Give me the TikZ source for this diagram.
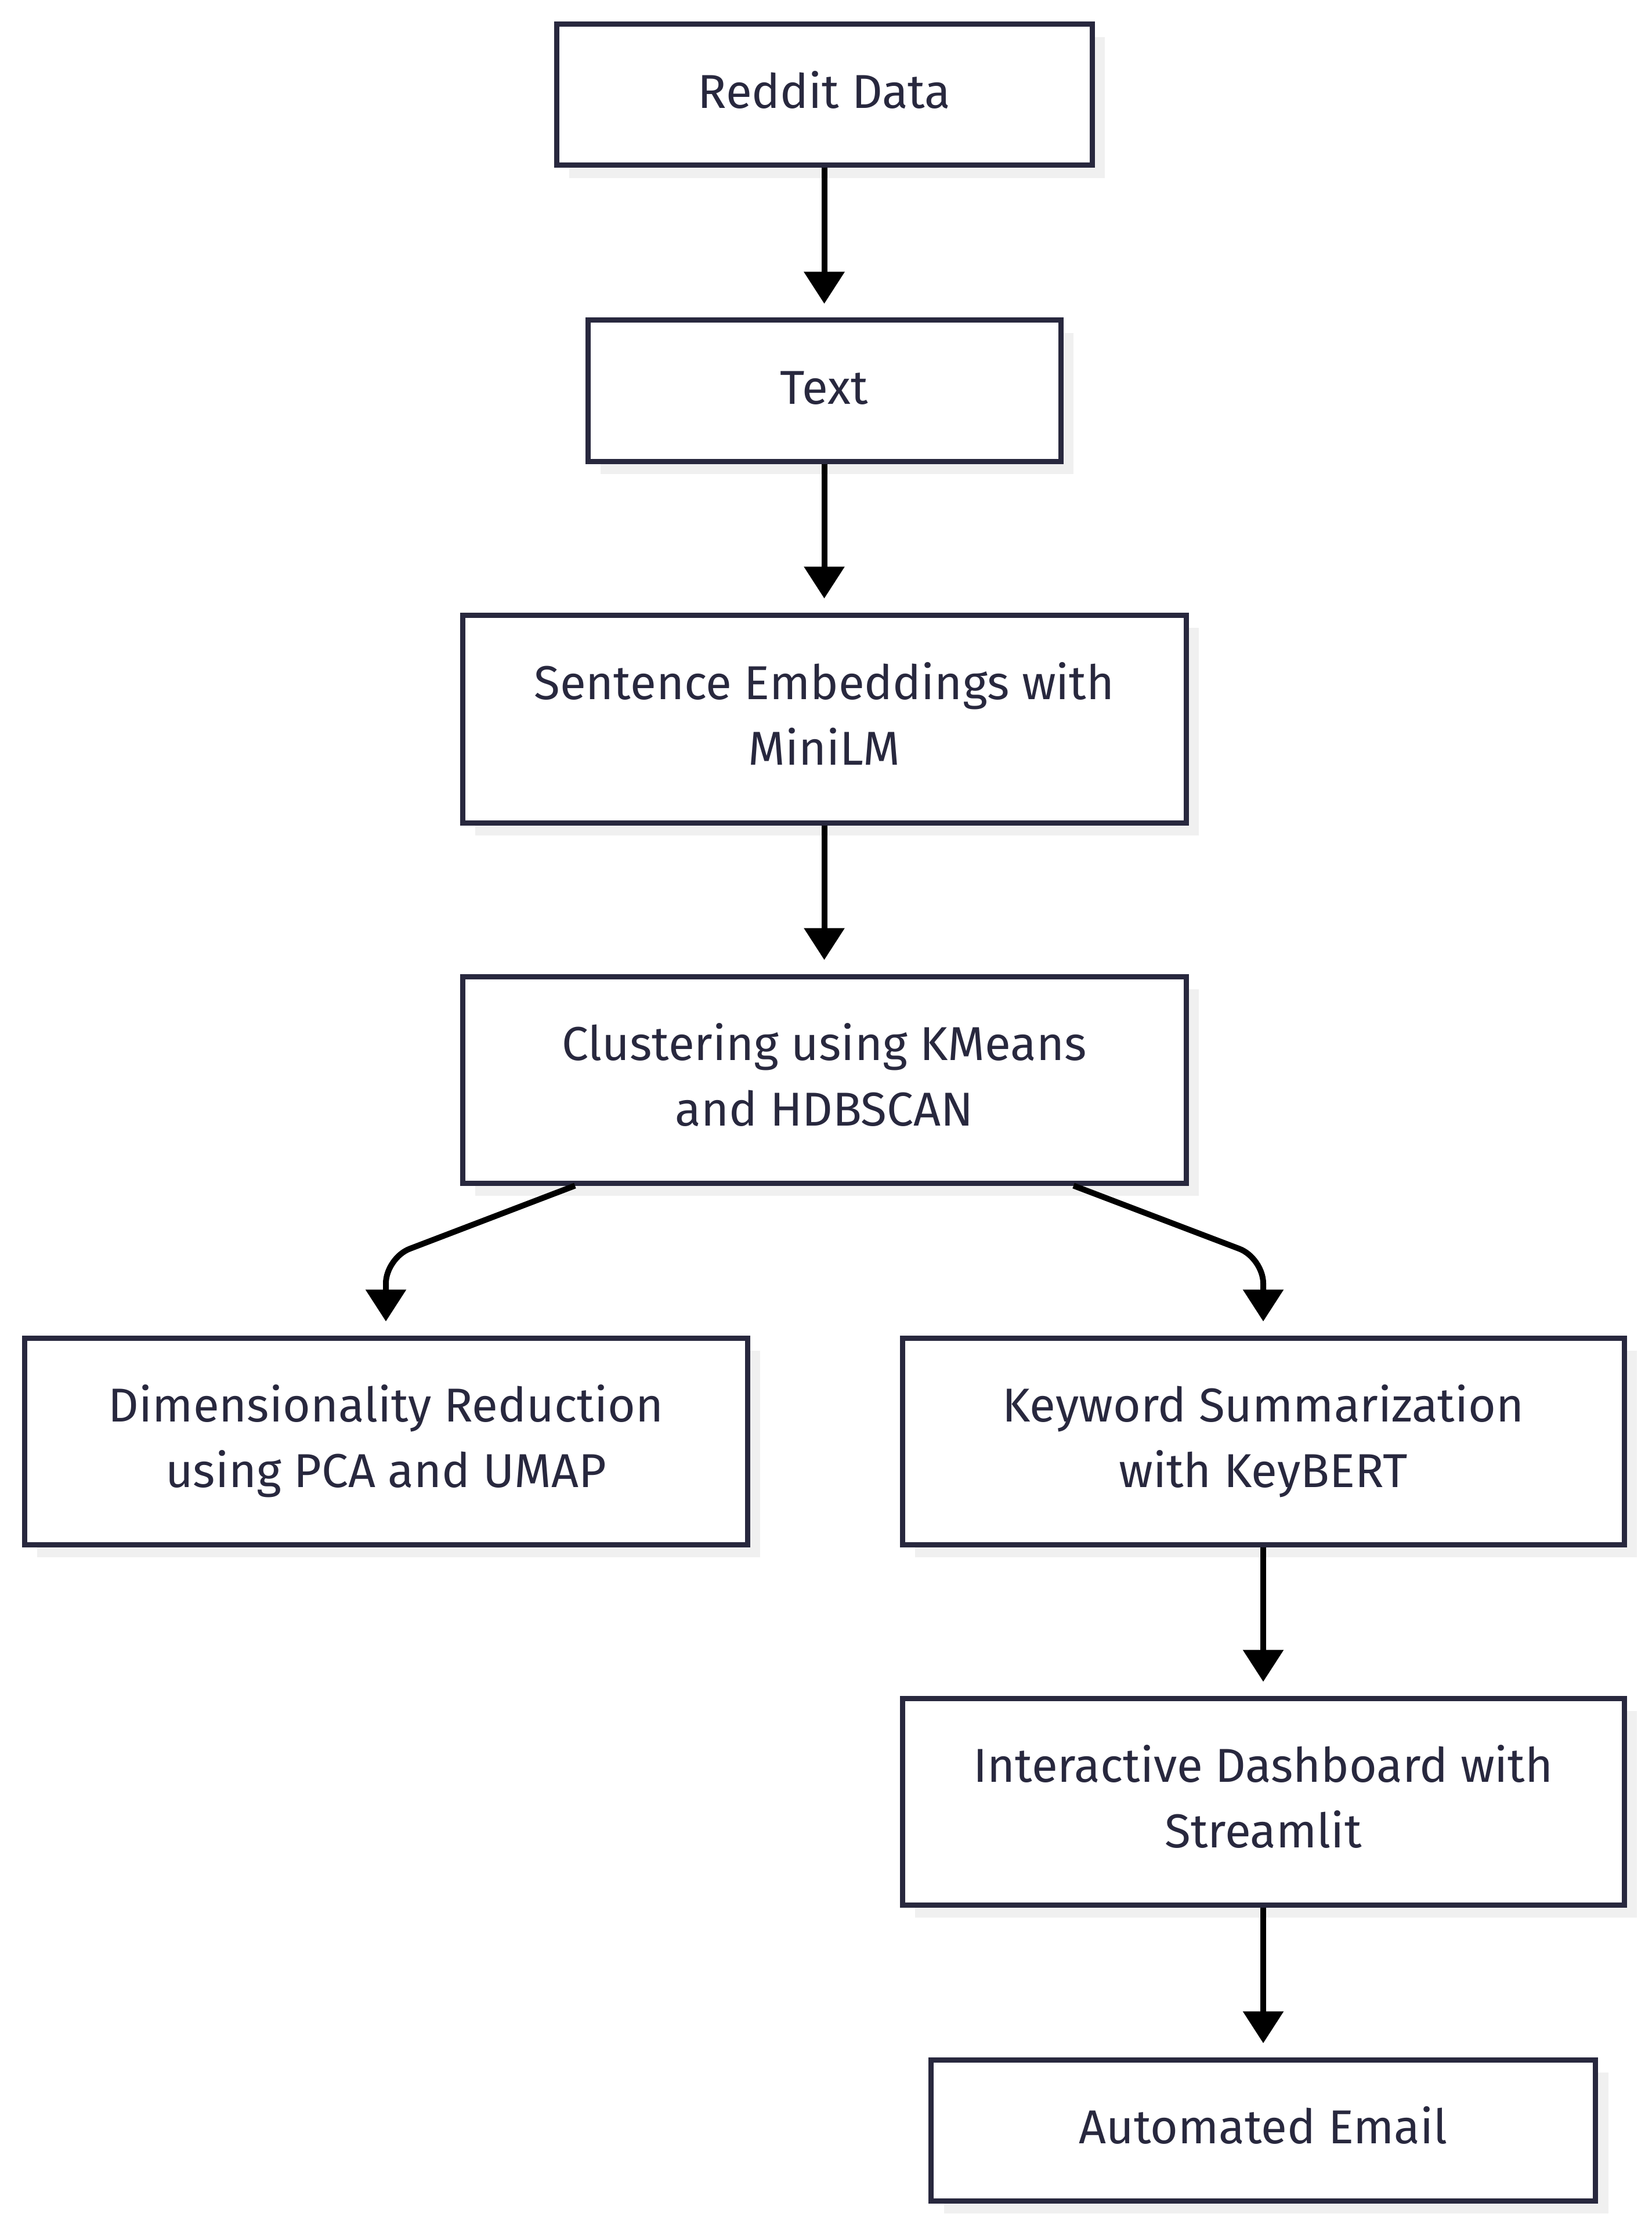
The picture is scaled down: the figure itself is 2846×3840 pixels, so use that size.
\documentclass[tikz,border=0pt]{standalone}
\usepackage{fontspec}
\setmainfont{Fira Sans}
\usetikzlibrary{arrows.meta,shadows}
\definecolor{ink}{HTML}{28283E}
\definecolor{shade}{HTML}{F0F0F0}
\newcommand\lbl[1]{\begin{tabular}{@{}c@{}}#1\end{tabular}}
\begin{document}
\begin{tikzpicture}[x=0.25pt,y=-0.25pt,
  box/.style={draw=ink, line width=2.25pt, fill=white, text=ink, align=center,
    font=\fontsize{20.5pt}{28.25pt}\selectfont, inner sep=0pt,
    drop shadow={shadow xshift=5.5pt, shadow yshift=-5.5pt, fill=shade, opacity=1}},
  arr/.style={draw=black, line width=2.5pt, -{Triangle[length=13.75pt,width=17pt]}, shorten >=6pt},
  bentarr/.style={arr, rounded corners=11pt}]
\useasboundingbox[fill=white] (0,0) rectangle (2846,3840);
\node[box, minimum width=923*0.25pt, minimum height=243*0.25pt] (n1) at (1420.5,163.5) {\lbl{Reddit Data}};
\node[box, minimum width=815*0.25pt, minimum height=243*0.25pt] (n2) at (1420.5,673.5) {\lbl{Text}};
\node[box, minimum width=1247*0.25pt, minimum height=358*0.25pt] (n3) at (1420.5,1239) {\lbl{Sentence Embeddings with\\MiniLM}};
\node[box, minimum width=1247*0.25pt, minimum height=356*0.25pt] (n4) at (1420.5,1861) {\lbl{Clustering using KMeans\\and HDBSCAN}};
\node[box, minimum width=1246*0.25pt, minimum height=356*0.25pt] (n5) at (665,2484) {\lbl{Dimensionality Reduction\\using PCA and UMAP}};
\node[box, minimum width=1244*0.25pt, minimum height=356*0.25pt] (n6) at (2177,2484) {\lbl{Keyword Summarization\\with KeyBERT}};
\node[box, minimum width=1244*0.25pt, minimum height=356*0.25pt] (n7) at (2177,3105) {\lbl{Interactive Dashboard with\\Streamlit}};
\node[box, minimum width=1145*0.25pt, minimum height=243*0.25pt] (n8) at (2177,3671.5) {\lbl{Automated Email}};
\draw[arr] (n1) -- (n2);
\draw[arr] (n2) -- (n3);
\draw[arr] (n3) -- (n4);
\coordinate (c5) at (665,2168);
\coordinate (c6) at (2177,2168);
\draw[bentarr] ([xshift=-107.4pt]n4.south) -- (c5) -- (n5.north);
\draw[bentarr] ([xshift=107.4pt]n4.south) -- (c6) -- (n6.north);
\draw[arr] (n6) -- (n7);
\draw[arr] (n7) -- (n8);
\end{tikzpicture}
\end{document}
